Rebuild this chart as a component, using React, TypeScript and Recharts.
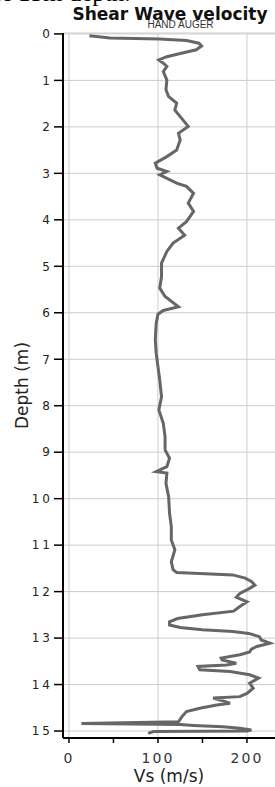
import React from 'react';
import {
  LineChart,
  Line,
  XAxis,
  YAxis,
  CartesianGrid,
  ReferenceLine,
} from 'recharts';

// depth (m) and shear wave velocity Vs (m/s)
const depths = [
  0.04, 0.09, 0.11, 0.14, 0.2, 0.26, 0.34, 0.42, 0.49, 0.56, 0.63, 0.7, 0.81, 0.99,
  1.2, 1.35, 1.49, 1.64, 1.78, 1.99, 2.14, 2.28, 2.5, 2.64, 2.78, 2.89, 2.96, 3.03,
  3.21, 3.28, 3.43, 3.64, 3.82, 4.04, 4.18, 4.33, 4.5, 4.68, 4.93, 5.22, 5.47, 5.65,
  5.87, 5.95, 6.03, 6.23, 6.58, 6.87, 7.16, 7.45, 7.81, 8.09, 8.38, 8.67, 8.95, 9.13,
  9.31, 9.42, 9.45, 9.67, 9.96, 10.31, 10.6, 10.89, 11.1, 11.36, 11.53, 11.59, 11.61,
  11.64, 11.71, 11.78, 11.86, 11.93, 12.04, 12.12, 12.22, 12.32, 12.42, 12.5, 12.58,
  12.65, 12.72, 12.77, 12.82, 12.86, 12.9, 12.97, 13.04, 13.11, 13.18, 13.24, 13.3,
  13.36, 13.43, 13.47, 13.54, 13.58, 13.61, 13.68, 13.72, 13.79, 13.86, 13.97, 14.08,
  14.19, 14.26, 14.29, 14.4, 14.44, 14.51, 14.58, 14.69, 14.8, 14.84, 14.86, 14.88,
  14.91, 14.94, 14.98, 15.0, 15.01, 15.05,
];

const vsValues = [
  23, 46, 102, 132, 146, 149, 143, 125, 110, 101, 106, 110, 106, 110,
  109, 112, 121, 119, 125, 134, 123, 125, 121, 110, 97, 99, 110, 102,
  121, 132, 140, 134, 140, 132, 123, 130, 117, 110, 104, 104, 102, 108,
  123, 106, 100, 98, 97, 98, 100, 102, 104, 101, 106, 108, 108, 113,
  110, 98, 110, 109, 112, 113, 115, 115, 119, 115, 117, 121, 147,
  184, 198, 205, 209, 203, 192, 188, 200, 192, 185, 150,
  122, 113, 113, 125, 150, 184, 202, 214, 216, 226, 211, 205, 203,
  192, 171, 172, 188, 177, 145, 147, 181, 203, 213, 203, 207,
  200, 192, 162, 181, 166, 147, 132, 127, 123, 14, 125, 140,
  173, 192, 205, 200, 95, 89,
];

const depthTicks = [0, 1, 2, 3, 4, 5, 6, 7, 8, 9, 10, 11, 12, 13, 14, 15];
const vsTicks = [0, 50, 100, 150, 200];
const vsGrid = [0, 100, 200];

const rows = depths.map((depth, i) => ({ depth, vs: vsValues[i] }));

const X_DOMAIN: [number, number] = [-6.7, 231.5];
const Y_DOMAIN: [number, number] = [-0.02, 15.15];

const DepthLabel = (props: any) => {
  const vb = props.viewBox || { x: 0, y: 33, width: 63, height: 705 };
  const cx = vb.x + 28;
  const cy = vb.y + vb.height / 2;
  return (
    <text
      x={cx}
      y={cy}
      transform={`rotate(-90, ${cx}, ${cy})`}
      textAnchor="middle"
      fontFamily="DejaVu Sans"
      fontSize={17}
      fill="#222"
    >
      Depth (m)
    </text>
  );
};

export default function App() {
  return (
    <div
      style={{
        position: 'absolute',
        left: 0,
        top: 0,
        width: 275,
        height: 787,
        overflow: 'hidden',
        background: '#fff',
      }}
    >
      <div
        style={{
          position: 'absolute',
          left: -9,
          top: -20,
          fontFamily: '"Liberation Serif", serif',
          fontSize: 25,
          lineHeight: '25px',
          whiteSpace: 'nowrap',
          color: '#000',
        }}
      >
        of 15m depth.
      </div>
      <div
        style={{
          position: 'absolute',
          left: 70,
          width: 200,
          top: 4,
          textAlign: 'center',
          fontFamily: '"DejaVu Sans", sans-serif',
          fontWeight: 'bold',
          fontSize: 17,
          lineHeight: '20px',
          whiteSpace: 'nowrap',
          color: '#111',
        }}
      >
        Shear Wave velocity
      </div>
      <div
        style={{
          position: 'absolute',
          left: 130,
          width: 101,
          top: 19,
          textAlign: 'center',
          fontFamily: '"Liberation Sans", sans-serif',
          fontSize: 10,
          lineHeight: '12px',
          whiteSpace: 'nowrap',
          color: '#333',
        }}
      >
        HAND AUGER
      </div>
      <div style={{ position: 'absolute', left: 0, top: 0 }}>
        <LineChart
          width={275}
          height={787}
          data={rows}
          layout="vertical"
          margin={{ top: 33, right: 0, bottom: 0, left: 0 }}
        >
          <CartesianGrid vertical={false} stroke="#cccccc" />
          {vsGrid.map((v) => (
            <ReferenceLine key={v} x={v} stroke="#cccccc" />
          ))}
          <XAxis
            type="number"
            dataKey="vs"
            domain={X_DOMAIN}
            allowDataOverflow
            ticks={vsTicks}
            tickFormatter={(v: number) => (v % 100 === 0 ? String(v) : '')}
            height={49}
            tickSize={5}
            tickMargin={10}
            axisLine={{ stroke: '#000', strokeWidth: 2 }}
            tickLine={{ stroke: '#000', strokeWidth: 1.5 }}
            tick={{ fontFamily: 'DejaVu Sans', fontSize: 14, fill: '#333', letterSpacing: 2 }}
            label={{
              value: 'Vs (m/s)',
              position: 'insideBottom',
              offset: 5,
              fontFamily: 'DejaVu Sans',
              fontSize: 17,
              fill: '#222',
            }}
          />
          <XAxis
            xAxisId="top"
            orientation="top"
            type="number"
            domain={X_DOMAIN}
            allowDataOverflow
            height={0}
            tick={false}
            tickLine={false}
            axisLine={{ stroke: '#000', strokeWidth: 1.5 }}
          />
          <YAxis
            type="number"
            dataKey="depth"
            domain={Y_DOMAIN}
            allowDataOverflow
            ticks={depthTicks}
            width={63}
            tickSize={9}
            tickMargin={1}
            axisLine={{ stroke: '#000', strokeWidth: 2 }}
            tickLine={{ stroke: '#000', strokeWidth: 1.5 }}
            tick={{ fontFamily: 'DejaVu Sans', fontSize: 12, fill: '#222', letterSpacing: 3 }}
            label={<DepthLabel />}
          />
          <Line
            dataKey="vs"
            type="linear"
            stroke="#666666"
            strokeWidth={3}
            dot={false}
            isAnimationActive={false}
          />
        </LineChart>
      </div>
    </div>
  );
}
